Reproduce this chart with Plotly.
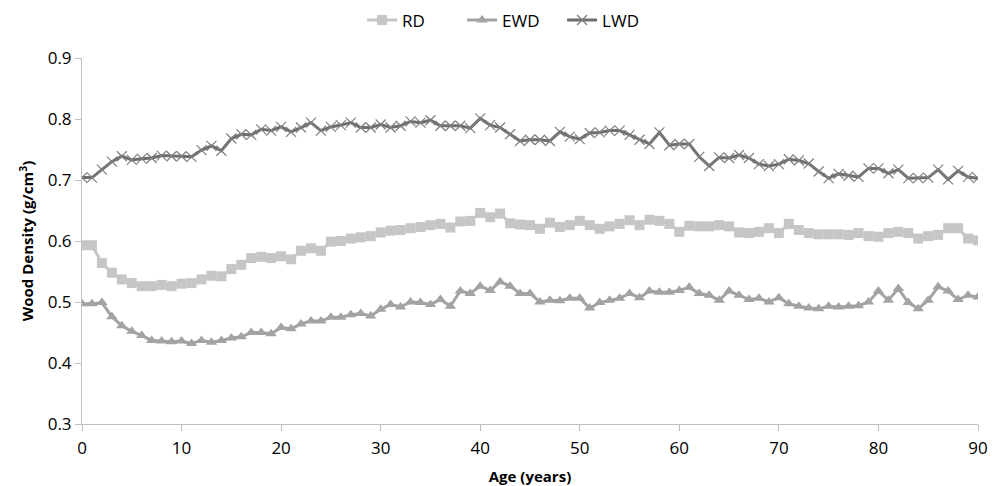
import plotly.graph_objects as go

age = list(range(0, 91))

rd = [0.593, 0.593, 0.564, 0.548, 0.537, 0.531, 0.526, 0.526, 0.528, 0.526,
      0.530, 0.531, 0.537, 0.543, 0.542, 0.554, 0.561, 0.572, 0.574, 0.572,
      0.575, 0.570, 0.584, 0.588, 0.584, 0.599, 0.600, 0.604, 0.606, 0.608,
      0.614, 0.617, 0.618, 0.621, 0.623, 0.626, 0.628, 0.622, 0.632, 0.633,
      0.646, 0.639, 0.645, 0.629, 0.627, 0.626, 0.620, 0.630, 0.623, 0.626,
      0.633, 0.626, 0.620, 0.624, 0.628, 0.634, 0.626, 0.635, 0.633, 0.628,
      0.615, 0.625, 0.624, 0.624, 0.626, 0.624, 0.614, 0.613, 0.615, 0.621,
      0.613, 0.628, 0.618, 0.613, 0.611, 0.611, 0.611, 0.610, 0.613, 0.608,
      0.607, 0.613, 0.615, 0.613, 0.604, 0.608, 0.610, 0.621, 0.621, 0.604,
      0.601]

ewd = [0.497, 0.497, 0.499, 0.476, 0.461, 0.452, 0.445, 0.437, 0.436, 0.435,
       0.436, 0.432, 0.437, 0.434, 0.437, 0.441, 0.443, 0.450, 0.450, 0.448,
       0.458, 0.456, 0.464, 0.469, 0.469, 0.475, 0.475, 0.479, 0.481, 0.477,
       0.488, 0.496, 0.492, 0.500, 0.499, 0.496, 0.504, 0.493, 0.518, 0.514,
       0.526, 0.519, 0.533, 0.526, 0.514, 0.514, 0.500, 0.503, 0.502, 0.506,
       0.506, 0.490, 0.499, 0.503, 0.506, 0.514, 0.507, 0.518, 0.516, 0.516,
       0.519, 0.524, 0.514, 0.511, 0.503, 0.518, 0.511, 0.504, 0.506, 0.500,
       0.507, 0.497, 0.493, 0.490, 0.489, 0.493, 0.492, 0.493, 0.494, 0.500,
       0.518, 0.503, 0.522, 0.499, 0.489, 0.503, 0.525, 0.518, 0.504, 0.511,
       0.508]

lwd = [0.704, 0.704, 0.717, 0.730, 0.739, 0.733, 0.735, 0.736, 0.740, 0.739,
       0.739, 0.738, 0.749, 0.756, 0.748, 0.768, 0.775, 0.774, 0.783, 0.781,
       0.787, 0.779, 0.786, 0.794, 0.781, 0.787, 0.790, 0.794, 0.786, 0.786,
       0.791, 0.786, 0.789, 0.796, 0.794, 0.798, 0.789, 0.789, 0.789, 0.785,
       0.801, 0.790, 0.786, 0.775, 0.764, 0.766, 0.766, 0.764, 0.779, 0.771,
       0.767, 0.777, 0.778, 0.781, 0.781, 0.774, 0.766, 0.759, 0.778, 0.757,
       0.759, 0.759, 0.738, 0.723, 0.737, 0.736, 0.741, 0.736, 0.726, 0.723,
       0.726, 0.734, 0.732, 0.727, 0.714, 0.703, 0.710, 0.707, 0.705, 0.719,
       0.719, 0.711, 0.717, 0.703, 0.703, 0.704, 0.717, 0.701, 0.715, 0.705,
       0.703]

x_ticks = [0, 10, 20, 30, 40, 50, 60, 70, 80, 90]
y_ticks = [0.3, 0.4, 0.5, 0.6, 0.7, 0.8, 0.9]

FONT = "Open Sans"
AXIS_COLOR = "#BFBFBF"

fig = go.Figure()
fig.add_trace(go.Scatter(
    x=age, y=rd, name="RD", mode="lines+markers",
    line=dict(color="#C6C6C6", width=3),
    marker=dict(symbol="square", size=10, color="#C6C6C6"),
))
fig.add_trace(go.Scatter(
    x=age, y=ewd, name="EWD", mode="lines+markers",
    line=dict(color="#A3A3A3", width=3),
    marker=dict(symbol="triangle-up", size=10, color="#A3A3A3"),
))
fig.add_trace(go.Scatter(
    x=age, y=lwd, name="LWD", mode="lines+markers",
    line=dict(color="#6E6E6E", width=3),
    marker=dict(symbol="x-thin", size=10, color="#7F7F7F",
                line=dict(color="#7F7F7F", width=1.2)),
))

fig.update_layout(
    width=1000, height=486,
    margin=dict(l=82, r=22, t=58, b=62, autoexpand=False),
    paper_bgcolor="white", plot_bgcolor="white",
    font=dict(family=FONT, size=17, color="#000000"),
    showlegend=True,
    legend=dict(orientation="h", x=0.48, xanchor="center", y=0.995, yanchor="top",
                yref="container", font=dict(size=17), itemwidth=30,
                entrywidth=55, entrywidthmode="pixels", tracegroupgap=0),
)

fig.update_xaxes(
    range=[0, 90], tickvals=x_ticks, ticks="outside", ticklen=6,
    tickcolor=AXIS_COLOR, showline=True, linecolor=AXIS_COLOR, linewidth=1,
    showgrid=False, zeroline=False, ticklabelstandoff=3, automargin=False,
    title=dict(text="<b>Age (years)</b>", font=dict(size=15), standoff=14),
)
fig.update_yaxes(
    range=[0.3, 0.9], tickvals=y_ticks, tickformat=".1f", ticks="outside", ticklen=6,
    tickcolor=AXIS_COLOR, showline=True, linecolor=AXIS_COLOR, linewidth=1,
    showgrid=False, zeroline=False, automargin=False,
    title=dict(text="<b>Wood Density (g/cm<sup>3</sup>)</b>", font=dict(size=15), standoff=10),
)

fig.write_html("out.html")
